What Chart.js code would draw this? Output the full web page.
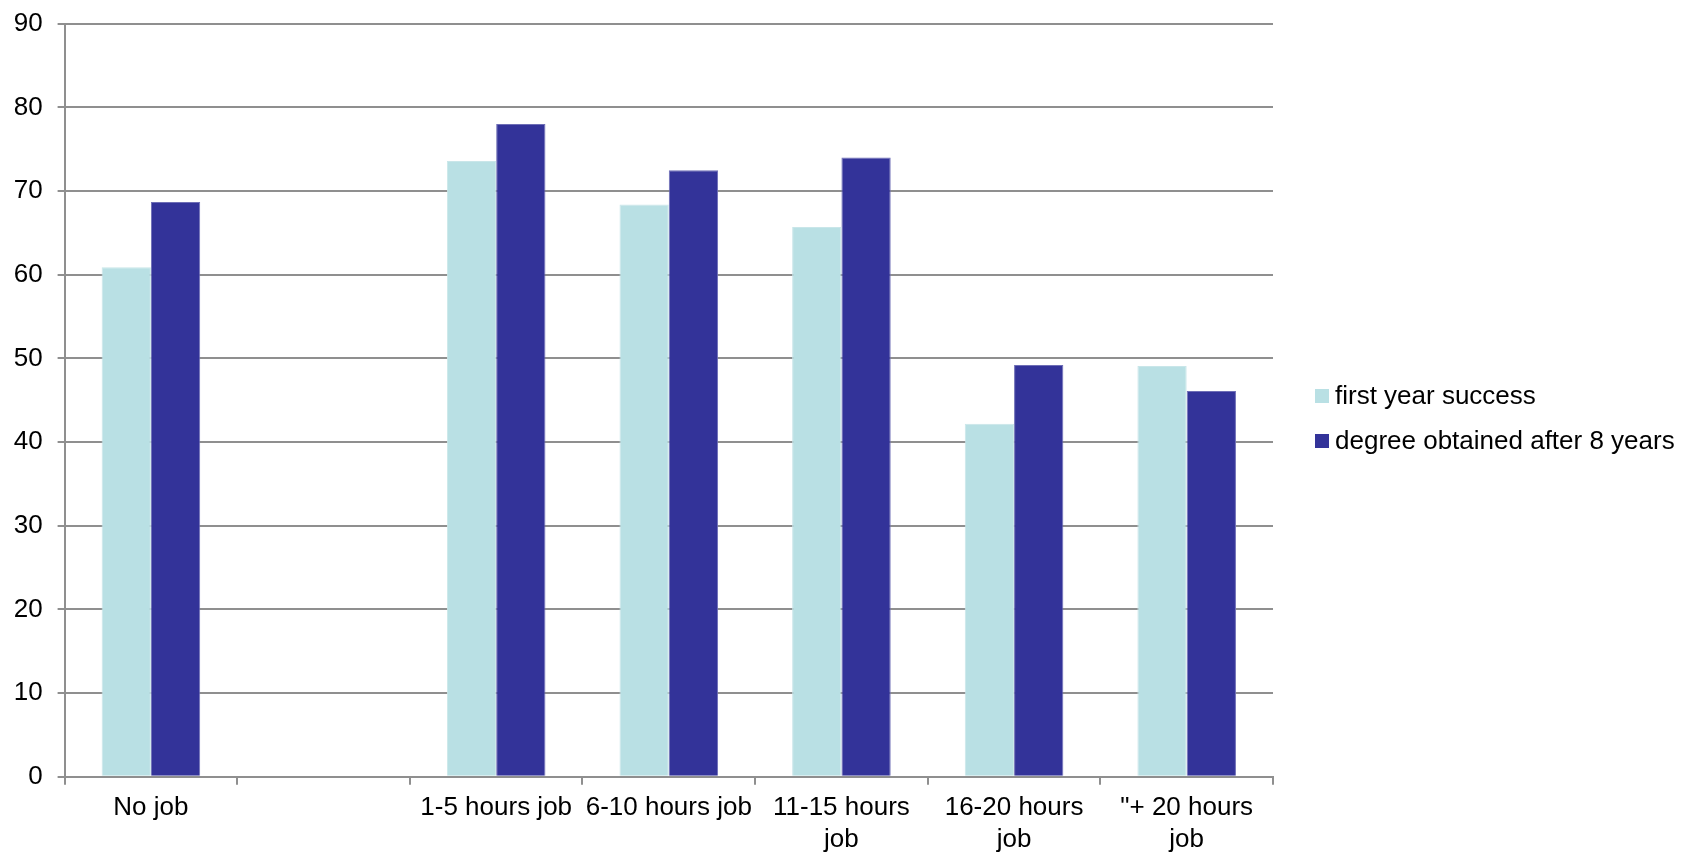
<!DOCTYPE html>
<html>
<head>
<meta charset="utf-8">
<script src="https://cdn.jsdelivr.net/npm/chart.js@4/dist/chart.umd.min.js"></script>
<style>
  html, body { margin: 0; padding: 0; background: #ffffff; }
  #wrap { position: relative; width: 1687px; height: 852px; }
</style>
</head>
<body>
<div id="wrap"><canvas id="chart"></canvas></div>
<script>
// Job hours categories (the second slot is an intentionally empty gap)
const categories = [
  'No job',
  '',
  '1-5 hours job',
  '6-10 hours job',
  ['11-15 hours', 'job'],
  ['16-20 hours', 'job'],
  ['"+ 20 hours', 'job']
];
const seriesNames = ['first year success', 'degree obtained after 8 years'];
const firstYearSuccess = [60.9, null, 73.6, 68.4, 65.7, 42.2, 49.1];
const degreeAfter8Years = [68.7, null, 78.0, 72.5, 74.0, 49.2, 46.1];
const yMin = 0, yMax = 90, yStep = 10;

const FONT = 'Liberation Sans, Arial, Helvetica, sans-serif';
const GRID = '#8f8f8f';
const colors = ['#b9e0e4', '#333399'];
const borders = ['#c9e6e9', '#6e6eb6'];

// Legend drawn to the right of the plot, Excel style
const sideLegend = {
  id: 'sideLegend',
  afterDraw(chart) {
    const { ctx } = chart;
    const x = 1315, rows = [396, 441], box = 14;
    ctx.save();
    ctx.font = '26px ' + FONT;
    ctx.textBaseline = 'middle';
    ctx.textAlign = 'left';
    chart.data.datasets.forEach((ds, i) => {
      const y = rows[i];
      ctx.fillStyle = ds.backgroundColor;
      ctx.fillRect(x, y - box / 2, box, box);
      ctx.fillStyle = '#000000';
      ctx.fillText(ds.label, x + box + 6, y + 1);
    });
    ctx.restore();
  }
};

new Chart(document.getElementById('chart'), {
  type: 'bar',
  data: {
    labels: categories,
    datasets: [
      { label: seriesNames[0], data: firstYearSuccess, backgroundColor: colors[0], borderColor: borders[0], borderWidth: 1 },
      { label: seriesNames[1], data: degreeAfter8Years, backgroundColor: colors[1], borderColor: borders[1], borderWidth: 1 }
    ]
  },
  options: {
    responsive: true,
    maintainAspectRatio: false,
    animation: false,
    layout: { padding: { left: 13.7, right: 414, top: 23.7, bottom: 0 } },
    datasets: { bar: { categoryPercentage: 0.571, barPercentage: 1.0 } },
    plugins: {
      legend: { display: false },
      tooltip: { enabled: false }
    },
    scales: {
      x: {
        grid: { display: true, drawOnChartArea: false, drawTicks: true, tickLength: 8, offset: true, color: GRID, lineWidth: 2 },
        border: { display: true, color: GRID, width: 2 },
        ticks: { color: '#000000', padding: 7, maxRotation: 0, autoSkip: false, font: { family: FONT, size: 26, lineHeight: 1.23 } },
        afterFit(scale) {
          scale.height = 75.2;
          scale.paddingLeft = 0;
          scale.paddingRight = 0;
        }
      },
      y: {
        min: yMin,
        max: yMax,
        grid: { color: GRID, lineWidth: 2, drawTicks: true, tickLength: 7 },
        border: { display: true, color: GRID, width: 2 },
        ticks: { stepSize: yStep, color: '#000000', padding: 15, font: { family: FONT, size: 26 } },
        afterFit(scale) {
          scale.width = 50.9;
          scale.paddingTop = 0;
          scale.paddingBottom = 0;
        }
      }
    }
  },
  plugins: [sideLegend]
});
</script>
</body>
</html>
